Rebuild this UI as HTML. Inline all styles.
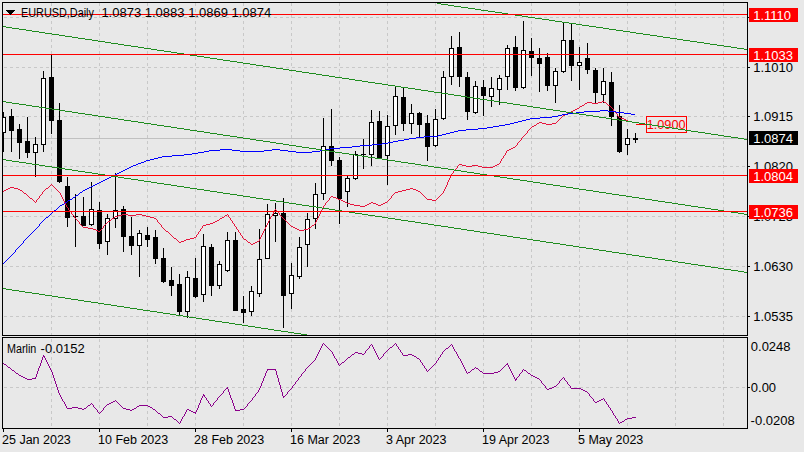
<!DOCTYPE html>
<html><head><meta charset="utf-8"><title>EURUSD Daily</title>
<style>
html,body{margin:0;padding:0;background:#e8e8e8;}
body{width:804px;height:452px;position:relative;overflow:hidden;font-family:"Liberation Sans",sans-serif;}
.b{position:absolute;left:749px;width:49px;height:14px;}
.t{position:absolute;white-space:nowrap;line-height:24px;height:24px;font-family:"Liberation Sans",sans-serif;}
</style></head><body>
<svg width="804" height="452" viewBox="0 0 804 452" style="position:absolute;left:0;top:0">
<defs><clipPath id="cm"><rect x="3" y="3" width="744" height="332"/></clipPath><clipPath id="ci"><rect x="3" y="338" width="744" height="90"/></clipPath></defs>
<g stroke="#c8c8c8" stroke-width="1" stroke-dasharray="3 3" shape-rendering="crispEdges" fill="none">
<line x1="51.5" y1="3" x2="51.5" y2="335"/>
<line x1="51.5" y1="339" x2="51.5" y2="428"/>
<line x1="99.5" y1="3" x2="99.5" y2="335"/>
<line x1="99.5" y1="339" x2="99.5" y2="428"/>
<line x1="147.5" y1="3" x2="147.5" y2="335"/>
<line x1="147.5" y1="339" x2="147.5" y2="428"/>
<line x1="195.5" y1="3" x2="195.5" y2="335"/>
<line x1="195.5" y1="339" x2="195.5" y2="428"/>
<line x1="243.5" y1="3" x2="243.5" y2="335"/>
<line x1="243.5" y1="339" x2="243.5" y2="428"/>
<line x1="291.5" y1="3" x2="291.5" y2="335"/>
<line x1="291.5" y1="339" x2="291.5" y2="428"/>
<line x1="339.5" y1="3" x2="339.5" y2="335"/>
<line x1="339.5" y1="339" x2="339.5" y2="428"/>
<line x1="387.5" y1="3" x2="387.5" y2="335"/>
<line x1="387.5" y1="339" x2="387.5" y2="428"/>
<line x1="435.5" y1="3" x2="435.5" y2="335"/>
<line x1="435.5" y1="339" x2="435.5" y2="428"/>
<line x1="483.5" y1="3" x2="483.5" y2="335"/>
<line x1="483.5" y1="339" x2="483.5" y2="428"/>
<line x1="531.5" y1="3" x2="531.5" y2="335"/>
<line x1="531.5" y1="339" x2="531.5" y2="428"/>
<line x1="579.5" y1="3" x2="579.5" y2="335"/>
<line x1="579.5" y1="339" x2="579.5" y2="428"/>
<line x1="627.5" y1="3" x2="627.5" y2="335"/>
<line x1="627.5" y1="339" x2="627.5" y2="428"/>
<line x1="675.5" y1="3" x2="675.5" y2="335"/>
<line x1="675.5" y1="339" x2="675.5" y2="428"/>
<line x1="723.5" y1="3" x2="723.5" y2="335"/>
<line x1="723.5" y1="339" x2="723.5" y2="428"/>
<line x1="4" y1="17.5" x2="747" y2="17.5"/>
<line x1="4" y1="67.5" x2="747" y2="67.5"/>
<line x1="4" y1="116.5" x2="747" y2="116.5"/>
<line x1="4" y1="166.5" x2="747" y2="166.5"/>
<line x1="4" y1="216.5" x2="747" y2="216.5"/>
<line x1="4" y1="266.5" x2="747" y2="266.5"/>
<line x1="4" y1="316.5" x2="747" y2="316.5"/>
<line x1="4" y1="387.5" x2="747" y2="387.5"/>
</g>
<g clip-path="url(#cm)">
<rect x="3" y="138" width="744" height="1" fill="#c0c0c0" shape-rendering="crispEdges"/>
<g shape-rendering="crispEdges">
<rect x="3" y="112" width="1" height="40" fill="#000"/>
<rect x="1" y="117" width="5" height="16" fill="#000"/>
<rect x="2" y="118" width="3" height="14" fill="#fff"/>
<rect x="11" y="109" width="1" height="43" fill="#000"/>
<rect x="9" y="116" width="5" height="15" fill="#000"/>
<rect x="19" y="124" width="1" height="35" fill="#000"/>
<rect x="17" y="129" width="5" height="14" fill="#000"/>
<rect x="27" y="117" width="1" height="41" fill="#000"/>
<rect x="25" y="141" width="5" height="12" fill="#000"/>
<rect x="35" y="137" width="1" height="40" fill="#000"/>
<rect x="33" y="144" width="5" height="9" fill="#000"/>
<rect x="34" y="145" width="3" height="7" fill="#fff"/>
<rect x="43" y="71" width="1" height="81" fill="#000"/>
<rect x="41" y="78" width="5" height="67" fill="#000"/>
<rect x="42" y="79" width="3" height="65" fill="#fff"/>
<rect x="51" y="55" width="1" height="79" fill="#000"/>
<rect x="49" y="77" width="5" height="44" fill="#000"/>
<rect x="59" y="103" width="1" height="80" fill="#000"/>
<rect x="57" y="120" width="5" height="62" fill="#000"/>
<rect x="67" y="177" width="1" height="50" fill="#000"/>
<rect x="65" y="186" width="5" height="32" fill="#000"/>
<rect x="75" y="194" width="1" height="53" fill="#000"/>
<rect x="73" y="216" width="5" height="1" fill="#000"/>
<rect x="83" y="197" width="1" height="29" fill="#000"/>
<rect x="81" y="216" width="5" height="10" fill="#000"/>
<rect x="91" y="182" width="1" height="44" fill="#000"/>
<rect x="89" y="209" width="5" height="16" fill="#000"/>
<rect x="90" y="210" width="3" height="14" fill="#fff"/>
<rect x="99" y="202" width="1" height="47" fill="#000"/>
<rect x="97" y="210" width="5" height="34" fill="#000"/>
<rect x="107" y="214" width="1" height="41" fill="#000"/>
<rect x="105" y="218" width="5" height="24" fill="#000"/>
<rect x="106" y="219" width="3" height="22" fill="#fff"/>
<rect x="115" y="173" width="1" height="55" fill="#000"/>
<rect x="113" y="210" width="5" height="9" fill="#000"/>
<rect x="114" y="211" width="3" height="7" fill="#fff"/>
<rect x="123" y="206" width="1" height="46" fill="#000"/>
<rect x="121" y="209" width="5" height="28" fill="#000"/>
<rect x="131" y="217" width="1" height="38" fill="#000"/>
<rect x="129" y="236" width="5" height="10" fill="#000"/>
<rect x="139" y="230" width="1" height="47" fill="#000"/>
<rect x="137" y="233" width="5" height="13" fill="#000"/>
<rect x="138" y="234" width="3" height="11" fill="#fff"/>
<rect x="147" y="227" width="1" height="20" fill="#000"/>
<rect x="145" y="235" width="5" height="5" fill="#000"/>
<rect x="155" y="230" width="1" height="34" fill="#000"/>
<rect x="153" y="237" width="5" height="22" fill="#000"/>
<rect x="163" y="248" width="1" height="35" fill="#000"/>
<rect x="161" y="258" width="5" height="24" fill="#000"/>
<rect x="171" y="267" width="1" height="29" fill="#000"/>
<rect x="169" y="280" width="5" height="6" fill="#000"/>
<rect x="179" y="274" width="1" height="42" fill="#000"/>
<rect x="177" y="284" width="5" height="28" fill="#000"/>
<rect x="187" y="271" width="1" height="47" fill="#000"/>
<rect x="185" y="277" width="5" height="35" fill="#000"/>
<rect x="186" y="278" width="3" height="33" fill="#fff"/>
<rect x="195" y="258" width="1" height="40" fill="#000"/>
<rect x="193" y="278" width="5" height="19" fill="#000"/>
<rect x="203" y="234" width="1" height="68" fill="#000"/>
<rect x="201" y="246" width="5" height="49" fill="#000"/>
<rect x="202" y="247" width="3" height="47" fill="#fff"/>
<rect x="211" y="244" width="1" height="52" fill="#000"/>
<rect x="209" y="247" width="5" height="39" fill="#000"/>
<rect x="219" y="261" width="1" height="28" fill="#000"/>
<rect x="217" y="264" width="5" height="22" fill="#000"/>
<rect x="218" y="265" width="3" height="20" fill="#fff"/>
<rect x="227" y="232" width="1" height="40" fill="#000"/>
<rect x="225" y="240" width="5" height="31" fill="#000"/>
<rect x="226" y="241" width="3" height="29" fill="#fff"/>
<rect x="235" y="232" width="1" height="79" fill="#000"/>
<rect x="233" y="240" width="5" height="71" fill="#000"/>
<rect x="243" y="296" width="1" height="27" fill="#000"/>
<rect x="241" y="309" width="5" height="4" fill="#000"/>
<rect x="251" y="286" width="1" height="30" fill="#000"/>
<rect x="249" y="291" width="5" height="21" fill="#000"/>
<rect x="250" y="292" width="3" height="19" fill="#fff"/>
<rect x="259" y="229" width="1" height="68" fill="#000"/>
<rect x="257" y="259" width="5" height="35" fill="#000"/>
<rect x="258" y="260" width="3" height="33" fill="#fff"/>
<rect x="267" y="204" width="1" height="55" fill="#000"/>
<rect x="265" y="214" width="5" height="45" fill="#000"/>
<rect x="266" y="215" width="3" height="43" fill="#fff"/>
<rect x="275" y="203" width="1" height="39" fill="#000"/>
<rect x="273" y="213" width="5" height="3" fill="#000"/>
<rect x="274" y="214" width="3" height="1" fill="#fff"/>
<rect x="283" y="198" width="1" height="130" fill="#000"/>
<rect x="281" y="213" width="5" height="83" fill="#000"/>
<rect x="291" y="263" width="1" height="46" fill="#000"/>
<rect x="289" y="275" width="5" height="19" fill="#000"/>
<rect x="290" y="276" width="3" height="17" fill="#fff"/>
<rect x="299" y="237" width="1" height="42" fill="#000"/>
<rect x="297" y="247" width="5" height="30" fill="#000"/>
<rect x="298" y="248" width="3" height="28" fill="#fff"/>
<rect x="307" y="213" width="1" height="54" fill="#000"/>
<rect x="305" y="219" width="5" height="26" fill="#000"/>
<rect x="306" y="220" width="3" height="24" fill="#fff"/>
<rect x="315" y="183" width="1" height="46" fill="#000"/>
<rect x="313" y="194" width="5" height="25" fill="#000"/>
<rect x="314" y="195" width="3" height="23" fill="#fff"/>
<rect x="323" y="118" width="1" height="82" fill="#000"/>
<rect x="321" y="146" width="5" height="48" fill="#000"/>
<rect x="322" y="147" width="3" height="46" fill="#fff"/>
<rect x="331" y="109" width="1" height="57" fill="#000"/>
<rect x="329" y="146" width="5" height="15" fill="#000"/>
<rect x="339" y="157" width="1" height="67" fill="#000"/>
<rect x="337" y="160" width="5" height="39" fill="#000"/>
<rect x="347" y="176" width="1" height="31" fill="#000"/>
<rect x="345" y="178" width="5" height="14" fill="#000"/>
<rect x="346" y="179" width="3" height="12" fill="#fff"/>
<rect x="355" y="151" width="1" height="29" fill="#000"/>
<rect x="353" y="154" width="5" height="25" fill="#000"/>
<rect x="354" y="155" width="3" height="23" fill="#fff"/>
<rect x="363" y="139" width="1" height="30" fill="#000"/>
<rect x="361" y="154" width="5" height="1" fill="#000"/>
<rect x="371" y="110" width="1" height="56" fill="#000"/>
<rect x="369" y="122" width="5" height="33" fill="#000"/>
<rect x="370" y="123" width="3" height="31" fill="#fff"/>
<rect x="379" y="111" width="1" height="48" fill="#000"/>
<rect x="377" y="121" width="5" height="37" fill="#000"/>
<rect x="387" y="115" width="1" height="70" fill="#000"/>
<rect x="385" y="126" width="5" height="30" fill="#000"/>
<rect x="386" y="127" width="3" height="28" fill="#fff"/>
<rect x="395" y="86" width="1" height="49" fill="#000"/>
<rect x="393" y="96" width="5" height="30" fill="#000"/>
<rect x="394" y="97" width="3" height="28" fill="#fff"/>
<rect x="403" y="88" width="1" height="43" fill="#000"/>
<rect x="401" y="97" width="5" height="27" fill="#000"/>
<rect x="411" y="104" width="1" height="30" fill="#000"/>
<rect x="409" y="113" width="5" height="11" fill="#000"/>
<rect x="410" y="114" width="3" height="9" fill="#fff"/>
<rect x="419" y="112" width="1" height="26" fill="#000"/>
<rect x="417" y="113" width="5" height="12" fill="#000"/>
<rect x="427" y="115" width="1" height="46" fill="#000"/>
<rect x="425" y="123" width="5" height="24" fill="#000"/>
<rect x="435" y="109" width="1" height="38" fill="#000"/>
<rect x="433" y="119" width="5" height="27" fill="#000"/>
<rect x="434" y="120" width="3" height="25" fill="#fff"/>
<rect x="443" y="71" width="1" height="49" fill="#000"/>
<rect x="441" y="77" width="5" height="42" fill="#000"/>
<rect x="442" y="78" width="3" height="40" fill="#fff"/>
<rect x="451" y="36" width="1" height="49" fill="#000"/>
<rect x="449" y="48" width="5" height="29" fill="#000"/>
<rect x="450" y="49" width="3" height="27" fill="#fff"/>
<rect x="459" y="32" width="1" height="55" fill="#000"/>
<rect x="457" y="47" width="5" height="30" fill="#000"/>
<rect x="467" y="72" width="1" height="48" fill="#000"/>
<rect x="465" y="77" width="5" height="35" fill="#000"/>
<rect x="475" y="81" width="1" height="33" fill="#000"/>
<rect x="473" y="86" width="5" height="27" fill="#000"/>
<rect x="474" y="87" width="3" height="25" fill="#fff"/>
<rect x="483" y="80" width="1" height="36" fill="#000"/>
<rect x="481" y="87" width="5" height="9" fill="#000"/>
<rect x="491" y="77" width="1" height="30" fill="#000"/>
<rect x="489" y="88" width="5" height="9" fill="#000"/>
<rect x="490" y="89" width="3" height="7" fill="#fff"/>
<rect x="499" y="75" width="1" height="30" fill="#000"/>
<rect x="497" y="78" width="5" height="12" fill="#000"/>
<rect x="498" y="79" width="3" height="10" fill="#fff"/>
<rect x="507" y="45" width="1" height="45" fill="#000"/>
<rect x="505" y="48" width="5" height="29" fill="#000"/>
<rect x="506" y="49" width="3" height="27" fill="#fff"/>
<rect x="515" y="36" width="1" height="55" fill="#000"/>
<rect x="513" y="47" width="5" height="41" fill="#000"/>
<rect x="523" y="21" width="1" height="68" fill="#000"/>
<rect x="521" y="50" width="5" height="38" fill="#000"/>
<rect x="522" y="51" width="3" height="36" fill="#fff"/>
<rect x="531" y="38" width="1" height="38" fill="#000"/>
<rect x="529" y="51" width="5" height="7" fill="#000"/>
<rect x="539" y="48" width="1" height="44" fill="#000"/>
<rect x="537" y="58" width="5" height="6" fill="#000"/>
<rect x="547" y="53" width="1" height="38" fill="#000"/>
<rect x="545" y="57" width="5" height="29" fill="#000"/>
<rect x="555" y="68" width="1" height="35" fill="#000"/>
<rect x="553" y="71" width="5" height="15" fill="#000"/>
<rect x="554" y="72" width="3" height="13" fill="#fff"/>
<rect x="563" y="22" width="1" height="51" fill="#000"/>
<rect x="561" y="40" width="5" height="32" fill="#000"/>
<rect x="562" y="41" width="3" height="30" fill="#fff"/>
<rect x="571" y="23" width="1" height="58" fill="#000"/>
<rect x="569" y="40" width="5" height="26" fill="#000"/>
<rect x="579" y="47" width="1" height="43" fill="#000"/>
<rect x="577" y="62" width="5" height="4" fill="#000"/>
<rect x="578" y="63" width="3" height="2" fill="#fff"/>
<rect x="587" y="43" width="1" height="31" fill="#000"/>
<rect x="585" y="58" width="5" height="12" fill="#000"/>
<rect x="595" y="68" width="1" height="36" fill="#000"/>
<rect x="593" y="70" width="5" height="23" fill="#000"/>
<rect x="603" y="68" width="1" height="35" fill="#000"/>
<rect x="601" y="81" width="5" height="14" fill="#000"/>
<rect x="602" y="82" width="3" height="12" fill="#fff"/>
<rect x="611" y="72" width="1" height="54" fill="#000"/>
<rect x="609" y="82" width="5" height="35" fill="#000"/>
<rect x="619" y="105" width="1" height="48" fill="#000"/>
<rect x="617" y="116" width="5" height="36" fill="#000"/>
<rect x="627" y="129" width="1" height="26" fill="#000"/>
<rect x="625" y="138" width="5" height="7" fill="#000"/>
<rect x="626" y="139" width="3" height="5" fill="#fff"/>
<rect x="635" y="133" width="1" height="10" fill="#000"/>
<rect x="633" y="138" width="5" height="2" fill="#000"/>
</g>
<path d="M4 190h2v1h-2zM20 190h2v1h-2zM402 190h4v1h-4zM416 190h2v1h-2zM331 196h2v1h-2zM569 112h2v1h-2zM93 229h3v1h-3zM297 229h2v1h-2zM304 229h4v1h-4zM345 202h2v1h-2zM371 202h2v1h-2zM385 202h2v1h-2zM203 225h3v1h-3zM312 225h2v1h-2zM602 101h2v1h-2zM210 223h3v1h-3zM459 164h3v1h-3zM497 164h2v1h-2zM360 206h5v1h-5zM174 238h2v1h-2zM190 238h4v1h-4zM30 198h2v1h-2zM336 198h2v1h-2zM587 102h5v1h-5zM598 102h4v1h-4zM604 102h2v1h-2zM350 204h4v1h-4zM367 204h2v1h-2zM376 204h2v1h-2zM381 204h2v1h-2zM8 188h2v1h-2zM14 188h4v1h-4zM46 188h2v1h-2zM410 188h3v1h-3zM343 201h2v1h-2zM186 239h4v1h-4zM244 239h2v1h-2zM118 215h4v1h-4zM128 215h8v1h-8zM142 215h4v1h-4zM225 215h2v1h-2zM217 220h2v1h-2zM181 241h3v1h-3zM257 241h2v1h-2zM511 148h2v1h-2zM546 124h6v1h-6zM96 230h2v1h-2zM299 230h5v1h-5zM122 214h6v1h-6zM136 214h6v1h-6zM462 165h4v1h-4zM472 165h6v1h-6zM495 165h2v1h-2zM482 167h11v1h-11zM115 216h3v1h-3zM146 216h4v1h-4zM338 199h3v1h-3zM427 199h5v1h-5zM108 221h2v1h-2zM215 221h2v1h-2zM621 118h3v1h-3zM2 191h2v1h-2zM398 191h4v1h-4zM418 191h2v1h-2zM347 203h3v1h-3zM369 203h2v1h-2zM373 203h3v1h-3zM383 203h2v1h-2zM88 228h5v1h-5zM295 228h2v1h-2zM308 228h2v1h-2zM565 114h2v1h-2zM537 123h2v1h-2zM542 123h4v1h-4zM552 123h4v1h-4zM354 205h6v1h-6zM365 205h2v1h-2zM378 205h3v1h-3zM333 197h3v1h-3zM466 166h6v1h-6zM478 166h4v1h-4zM493 166h2v1h-2zM6 189h2v1h-2zM18 189h2v1h-2zM406 189h4v1h-4zM413 189h3v1h-3zM83 227h5v1h-5zM293 227h2v1h-2zM626 120h2v1h-2zM253 243h2v1h-2zM507 150h2v1h-2zM341 200h2v1h-2zM432 200h4v1h-4zM291 226h2v1h-2zM194 237h2v1h-2zM395 192h3v1h-3zM206 224h4v1h-4zM585 103h2v1h-2zM592 103h6v1h-6zM577 108h2v1h-2zM10 187h4v1h-4zM150 217h4v1h-4zM222 217h2v1h-2zM24 193h2v1h-2zM112 218h2v1h-2zM154 218h2v1h-2zM220 218h2v1h-2zM567 113h2v1h-2zM184 240h2v1h-2zM580 106h2v1h-2zM98 231h2v1h-2zM166 231h2v1h-2zM563 115h2v1h-2zM539 122h3v1h-3zM213 222h2v1h-2zM573 110h2v1h-2zM179 242h2v1h-2zM248 242h2v1h-2zM255 242h2v1h-2zM571 111h2v1h-2zM582 105h2v1h-2zM608 105h2v1h-2zM619 117h2v1h-2zM624 119h2v1h-2zM532 126h2v1h-2zM575 109h2v1h-2zM513 147h2v1h-2zM534 125h2v1h-2zM251 244h2v1h-2zM509 149h2v1h-2zM44 190h1v1h-1zM57 190h1v1h-1zM444 189h1v2h-1zM28 196h1v1h-1zM39 196h1v2h-1zM61 195h1v2h-1zM391 196h1v2h-1zM424 196h1v1h-1zM439 196h1v1h-1zM615 112h1v1h-1zM101 229h1v1h-1zM164 229h1v1h-1zM200 229h1v2h-1zM237 229h1v1h-1zM264 229h1v2h-1zM170 234h1v1h-1zM197 234h1v1h-1zM240 233h1v2h-1zM262 233h1v2h-1zM35 202h1v1h-1zM64 201h1v2h-1zM326 202h1v1h-1zM81 225h1v1h-1zM104 225h1v1h-1zM161 225h1v2h-1zM234 224h1v2h-1zM266 225h1v2h-1zM290 225h1v1h-1zM79 222h1v2h-1zM106 223h1v1h-1zM159 223h1v1h-1zM233 223h1v1h-1zM267 223h1v2h-1zM288 223h1v1h-1zM315 222h1v2h-1zM169 233h1v1h-1zM198 232h1v2h-1zM66 205h1v2h-1zM323 206h1v2h-1zM68 208h1v2h-1zM275 209h1v1h-1zM322 208h1v2h-1zM243 238h1v1h-1zM260 237h1v2h-1zM38 198h1v1h-1zM62 197h1v2h-1zM329 198h1v2h-1zM390 198h1v1h-1zM426 198h1v1h-1zM437 198h1v1h-1zM65 203h1v2h-1zM325 203h1v2h-1zM55 188h1v1h-1zM445 187h1v2h-1zM34 201h1v1h-1zM36 200h1v2h-1zM327 201h1v1h-1zM387 201h1v1h-1zM69 210h1v1h-1zM274 210h1v2h-1zM276 210h1v1h-1zM321 210h1v2h-1zM176 239h1v1h-1zM259 239h1v2h-1zM73 215h1v1h-1zM228 215h1v2h-1zM272 214h1v2h-1zM280 215h1v1h-1zM319 214h1v2h-1zM77 220h1v1h-1zM110 220h1v1h-1zM157 220h1v2h-1zM231 220h1v1h-1zM269 219h1v2h-1zM285 220h1v1h-1zM316 220h1v2h-1zM178 241h1v1h-1zM247 241h1v1h-1zM536 124h1v1h-1zM100 230h1v1h-1zM165 230h1v1h-1zM238 230h1v2h-1zM72 214h1v1h-1zM227 214h1v1h-1zM279 213h1v2h-1zM458 165h1v1h-1zM457 166h1v2h-1zM516 145h1v1h-1zM451 174h1v2h-1zM74 216h1v2h-1zM224 216h1v1h-1zM271 216h1v1h-1zM281 216h1v1h-1zM318 216h1v2h-1zM454 170h1v1h-1zM505 153h1v2h-1zM32 199h1v1h-1zM37 199h1v1h-1zM63 199h1v2h-1zM389 199h1v1h-1zM436 199h1v1h-1zM78 221h1v1h-1zM232 221h1v2h-1zM268 221h1v2h-1zM286 221h1v1h-1zM560 118h1v1h-1zM22 191h1v1h-1zM43 191h1v1h-1zM58 191h1v1h-1zM443 191h1v2h-1zM102 228h1v1h-1zM163 228h1v1h-1zM201 228h1v1h-1zM236 227h1v2h-1zM265 227h1v2h-1zM617 114h1v2h-1zM450 176h1v2h-1zM324 205h1v1h-1zM524 135h1v1h-1zM29 197h1v1h-1zM330 197h1v1h-1zM425 197h1v1h-1zM438 197h1v1h-1zM45 189h1v1h-1zM56 189h1v1h-1zM103 226h1v2h-1zM162 227h1v1h-1zM202 226h1v2h-1zM310 227h1v1h-1zM27 195h1v1h-1zM40 195h1v1h-1zM392 195h1v1h-1zM423 195h1v1h-1zM440 195h1v1h-1zM499 163h1v1h-1zM558 120h1v1h-1zM519 141h1v1h-1zM250 243h1v1h-1zM33 200h1v1h-1zM328 200h1v1h-1zM388 200h1v1h-1zM82 226h1v1h-1zM235 226h1v1h-1zM311 226h1v1h-1zM173 237h1v1h-1zM242 236h1v2h-1zM23 192h1v1h-1zM42 192h1v2h-1zM59 192h1v1h-1zM420 192h1v1h-1zM80 224h1v1h-1zM105 224h1v1h-1zM160 224h1v1h-1zM289 224h1v1h-1zM314 224h1v1h-1zM579 107h1v1h-1zM611 107h1v1h-1zM76 219h1v1h-1zM111 219h1v1h-1zM156 219h1v1h-1zM219 219h1v1h-1zM230 218h1v2h-1zM284 219h1v1h-1zM317 218h1v2h-1zM606 103h1v1h-1zM51 184h1v1h-1zM447 182h1v3h-1zM70 211h1v1h-1zM277 211h1v1h-1zM612 108h1v1h-1zM527 131h1v2h-1zM48 187h1v1h-1zM54 187h1v1h-1zM562 116h1v1h-1zM618 116h1v1h-1zM114 217h1v1h-1zM229 217h1v1h-1zM270 217h1v2h-1zM282 217h1v1h-1zM60 193h1v2h-1zM394 193h1v1h-1zM421 193h1v1h-1zM442 193h1v1h-1zM75 218h1v1h-1zM283 218h1v1h-1zM26 194h1v1h-1zM41 194h1v1h-1zM393 194h1v1h-1zM422 194h1v1h-1zM441 194h1v1h-1zM171 235h1v1h-1zM196 235h1v2h-1zM241 235h1v1h-1zM261 235h1v2h-1zM449 178h1v2h-1zM506 151h1v2h-1zM172 236h1v1h-1zM453 171h1v2h-1zM49 186h1v1h-1zM53 186h1v1h-1zM446 185h1v2h-1zM616 113h1v1h-1zM584 104h1v1h-1zM607 104h1v1h-1zM502 158h1v1h-1zM177 240h1v1h-1zM246 240h1v1h-1zM557 121h1v1h-1zM610 106h1v1h-1zM199 231h1v1h-1zM263 231h1v2h-1zM515 146h1v1h-1zM71 212h1v2h-1zM273 212h1v2h-1zM320 212h1v2h-1zM556 122h1v1h-1zM107 222h1v1h-1zM158 222h1v1h-1zM287 222h1v1h-1zM526 133h1v1h-1zM613 109h1v2h-1zM614 111h1v1h-1zM67 207h1v1h-1zM521 138h1v2h-1zM561 117h1v1h-1zM448 180h1v2h-1zM529 129h1v1h-1zM559 119h1v1h-1zM50 185h1v1h-1zM52 185h1v1h-1zM452 173h1v1h-1zM278 212h1v1h-1zM501 159h1v2h-1zM517 143h1v2h-1zM520 140h1v1h-1zM455 169h1v1h-1zM504 155h1v1h-1zM528 130h1v1h-1zM168 232h1v1h-1zM239 232h1v1h-1zM500 161h1v2h-1zM523 136h1v1h-1zM531 127h1v1h-1zM518 142h1v1h-1zM503 156h1v2h-1zM530 128h1v1h-1zM525 134h1v1h-1zM522 137h1v1h-1zM456 168h1v1h-1z" fill="#e6143c" shape-rendering="crispEdges"/>
<path d="M398 140h6v1h-6zM493 126h6v1h-6zM584 111h16v1h-16zM608 111h8v1h-8zM172 155h12v1h-12zM360 145h12v1h-12zM204 151h5v1h-5zM240 151h24v1h-24zM288 151h8v1h-8zM312 151h8v1h-8zM540 117h12v1h-12zM138 163h3v1h-3zM209 150h11v1h-11zM232 150h8v1h-8zM264 150h8v1h-8zM280 150h8v1h-8zM320 150h6v1h-6zM568 113h8v1h-8zM624 113h7v1h-7zM109 177h2v1h-2zM600 110h8v1h-8zM518 121h4v1h-4zM382 143h6v1h-6zM352 146h8v1h-8zM454 131h4v1h-4zM101 181h2v1h-2zM466 129h12v1h-12zM424 136h14v1h-14zM154 158h4v1h-4zM558 115h4v1h-4zM404 139h5v1h-5zM499 125h6v1h-6zM416 137h8v1h-8zM123 170h2v1h-2zM184 154h8v1h-8zM198 152h6v1h-6zM296 152h16v1h-16zM562 114h6v1h-6zM631 114h4v1h-4zM62 204h2v1h-2zM458 130h8v1h-8zM220 149h12v1h-12zM272 149h8v1h-8zM326 149h4v1h-4zM526 119h4v1h-4zM505 124h5v1h-5zM119 172h2v1h-2zM150 159h4v1h-4zM442 134h4v1h-4zM162 156h10v1h-10zM530 118h10v1h-10zM478 128h9v1h-9zM133 165h3v1h-3zM514 122h4v1h-4zM372 144h10v1h-10zM105 179h2v1h-2zM340 147h12v1h-12zM97 183h2v1h-2zM192 153h6v1h-6zM522 120h4v1h-4zM115 174h2v1h-2zM576 112h8v1h-8zM616 112h8v1h-8zM330 148h10v1h-10zM393 141h5v1h-5zM80 192h2v1h-2zM158 157h4v1h-4zM450 132h4v1h-4zM107 178h2v1h-2zM487 127h6v1h-6zM552 116h6v1h-6zM146 160h4v1h-4zM438 135h4v1h-4zM111 176h2v1h-2zM83 190h2v1h-2zM117 173h2v1h-2zM46 217h2v1h-2zM131 166h2v1h-2zM76 195h2v1h-2zM510 123h4v1h-4zM68 200h2v1h-2zM60 205h2v1h-2zM103 180h2v1h-2zM99 182h2v1h-2zM141 162h3v1h-3zM388 142h5v1h-5zM113 175h2v1h-2zM65 202h2v1h-2zM95 184h2v1h-2zM409 138h7v1h-7zM144 161h2v1h-2zM70 199h2v1h-2zM91 186h2v1h-2zM129 167h2v1h-2zM125 169h2v1h-2zM93 185h2v1h-2zM89 187h2v1h-2zM127 168h2v1h-2zM73 197h2v1h-2zM136 164h2v1h-2zM85 189h2v1h-2zM446 133h4v1h-4zM54 210h2v1h-2zM87 188h2v1h-2zM121 171h2v1h-2zM39 224h1v2h-1zM7 259h1v1h-1zM27 237h1v1h-1zM42 221h1v1h-1zM19 246h1v1h-1zM14 252h1v1h-1zM11 255h1v1h-1zM2 264h1v1h-1zM34 230h1v1h-1zM53 211h1v1h-1zM57 208h1v1h-1zM26 238h1v1h-1zM44 219h1v1h-1zM9 257h1v1h-1zM29 235h1v1h-1zM6 260h1v1h-1zM48 216h1v1h-1zM21 244h1v1h-1zM41 222h1v1h-1zM36 228h1v1h-1zM4 262h1v1h-1zM24 240h1v1h-1zM75 196h1v1h-1zM52 212h1v1h-1zM13 253h1v1h-1zM16 249h1v1h-1zM31 233h1v1h-1zM67 201h1v1h-1zM59 206h1v1h-1zM79 193h1v1h-1zM28 236h1v1h-1zM23 241h1v2h-1zM43 220h1v1h-1zM8 258h1v1h-1zM35 229h1v1h-1zM50 214h1v1h-1zM38 226h1v1h-1zM15 250h1v2h-1zM18 247h1v1h-1zM3 263h1v1h-1zM30 234h1v1h-1zM33 231h1v1h-1zM10 256h1v1h-1zM58 207h1v1h-1zM56 209h1v1h-1zM45 218h1v1h-1zM22 243h1v1h-1zM49 215h1v1h-1zM37 227h1v1h-1zM5 261h1v1h-1zM72 198h1v1h-1zM64 203h1v1h-1zM25 239h1v1h-1zM40 223h1v1h-1zM20 245h1v1h-1zM17 248h1v1h-1zM12 254h1v1h-1zM32 232h1v1h-1zM51 213h1v1h-1zM78 194h1v1h-1zM82 191h1v1h-1z" fill="#0000ff" shape-rendering="crispEdges"/>
<rect x="636" y="124" width="10" height="1" fill="#ff0000" shape-rendering="crispEdges"/>
<rect x="646.5" y="116.5" width="40" height="16" fill="#e8e8e8" stroke="#ff0000" stroke-width="1" shape-rendering="crispEdges"/>
<text x="646.7" y="128.8" font-family="Liberation Sans, sans-serif" font-size="12.7" fill="#ff0000">1.0900</text>
<path d="M663 37h7v1h-7zM468 8h7v1h-7zM623 31h7v1h-7zM657 36h6v1h-6zM555 21h7v1h-7zM710 44h7v1h-7zM515 15h7v1h-7zM670 38h7v1h-7zM481 10h7v1h-7zM441 4h7v1h-7zM603 28h6v1h-6zM569 23h7v1h-7zM724 46h7v1h-7zM542 19h7v1h-7zM582 25h7v1h-7zM630 32h6v1h-6zM650 35h7v1h-7zM454 6h7v1h-7zM609 29h7v1h-7zM717 45h7v1h-7zM731 47h6v1h-6zM643 34h7v1h-7zM448 5h6v1h-6zM737 48h7v1h-7zM697 42h7v1h-7zM502 13h6v1h-6zM461 7h7v1h-7zM690 41h7v1h-7zM744 49h4v1h-4zM549 20h6v1h-6zM528 17h7v1h-7zM488 11h7v1h-7zM495 12h7v1h-7zM616 30h7v1h-7zM576 24h6v1h-6zM596 27h7v1h-7zM589 26h7v1h-7zM683 40h7v1h-7zM522 16h6v1h-6zM677 39h6v1h-6zM636 33h7v1h-7zM535 18h7v1h-7zM508 14h7v1h-7zM562 22h7v1h-7zM475 9h6v1h-6zM704 43h6v1h-6zM437 3h4v1h-4z" fill="#1e8c1e" shape-rendering="crispEdges"/>
<path d="M26 30h6v1h-6zM177 53h7v1h-7zM335 77h7v1h-7zM665 127h7v1h-7zM296 71h6v1h-6zM448 94h6v1h-6zM678 129h7v1h-7zM256 65h7v1h-7zM566 112h7v1h-7zM78 38h7v1h-7zM744 139h4v1h-4zM263 66h7v1h-7zM276 68h7v1h-7zM724 136h7v1h-7zM237 62h6v1h-6zM382 84h6v1h-6zM355 80h7v1h-7zM494 101h6v1h-6zM6 27h6v1h-6zM507 103h6v1h-6zM612 119h7v1h-7zM124 45h7v1h-7zM626 121h6v1h-6zM540 108h6v1h-6zM52 34h7v1h-7zM322 75h7v1h-7zM283 69h6v1h-6zM441 93h7v1h-7zM92 40h6v1h-6zM105 42h6v1h-6zM553 110h7v1h-7zM65 36h7v1h-7zM593 116h6v1h-6zM672 128h6v1h-6zM171 52h6v1h-6zM184 54h6v1h-6zM586 115h7v1h-7zM98 41h7v1h-7zM368 82h7v1h-7zM190 55h7v1h-7zM487 100h7v1h-7zM639 123h6v1h-6zM151 49h6v1h-6zM599 117h7v1h-7zM111 43h7v1h-7zM421 90h7v1h-7zM454 95h7v1h-7zM415 89h6v1h-6zM685 130h6v1h-6zM197 56h7v1h-7zM19 29h7v1h-7zM467 97h7v1h-7zM500 102h7v1h-7zM12 28h7v1h-7zM164 51h7v1h-7zM652 125h6v1h-6zM731 137h7v1h-7zM243 63h7v1h-7zM711 134h7v1h-7zM210 58h7v1h-7zM223 60h7v1h-7zM329 76h6v1h-6zM342 78h7v1h-7zM527 106h6v1h-6zM39 32h6v1h-6zM309 73h7v1h-7zM270 67h6v1h-6zM428 91h6v1h-6zM579 114h7v1h-7zM388 85h7v1h-7zM658 126h7v1h-7zM302 72h7v1h-7zM573 113h6v1h-6zM85 39h7v1h-7zM395 86h6v1h-6zM691 131h7v1h-7zM316 74h6v1h-6zM474 98h6v1h-6zM138 47h6v1h-6zM408 88h7v1h-7zM705 133h6v1h-6zM217 59h6v1h-6zM619 120h7v1h-7zM131 46h7v1h-7zM401 87h7v1h-7zM520 105h7v1h-7zM2 26h4v1h-4zM718 135h6v1h-6zM230 61h7v1h-7zM546 109h7v1h-7zM45 33h7v1h-7zM59 35h6v1h-6zM698 132h7v1h-7zM513 104h7v1h-7zM632 122h7v1h-7zM144 48h7v1h-7zM362 81h6v1h-6zM375 83h7v1h-7zM289 70h7v1h-7zM560 111h6v1h-6zM72 37h6v1h-6zM32 31h7v1h-7zM204 57h6v1h-6zM645 124h7v1h-7zM157 50h7v1h-7zM606 118h6v1h-6zM118 44h6v1h-6zM434 92h7v1h-7zM533 107h7v1h-7zM461 96h6v1h-6zM349 79h6v1h-6zM738 138h6v1h-6zM250 64h6v1h-6zM480 99h7v1h-7z" fill="#1e8c1e" shape-rendering="crispEdges"/>
<path d="M401 162h7v1h-7zM415 164h6v1h-6zM520 180h7v1h-7zM32 106h7v1h-7zM480 174h7v1h-7zM302 147h7v1h-7zM263 141h7v1h-7zM2 101h4v1h-4zM461 171h6v1h-6zM579 189h7v1h-7zM78 113h7v1h-7zM92 115h6v1h-6zM230 136h7v1h-7zM243 138h7v1h-7zM349 154h6v1h-6zM731 212h7v1h-7zM322 150h7v1h-7zM546 184h7v1h-7zM59 110h6v1h-6zM507 178h6v1h-6zM19 104h7v1h-7zM329 151h6v1h-6zM289 145h7v1h-7zM408 163h7v1h-7zM560 186h6v1h-6zM593 191h6v1h-6zM105 117h6v1h-6zM553 185h7v1h-7zM65 111h7v1h-7zM223 135h7v1h-7zM375 158h7v1h-7zM711 209h7v1h-7zM335 152h7v1h-7zM645 199h7v1h-7zM157 125h7v1h-7zM454 170h7v1h-7zM606 193h6v1h-6zM118 119h6v1h-6zM72 112h6v1h-6zM639 198h6v1h-6zM151 124h6v1h-6zM652 200h6v1h-6zM421 165h7v1h-7zM85 114h7v1h-7zM382 159h6v1h-6zM691 206h7v1h-7zM204 132h6v1h-6zM237 137h6v1h-6zM388 160h7v1h-7zM197 131h7v1h-7zM467 172h7v1h-7zM738 213h6v1h-6zM250 139h6v1h-6zM296 146h6v1h-6zM448 169h6v1h-6zM566 187h7v1h-7zM718 210h6v1h-6zM26 105h6v1h-6zM678 204h7v1h-7zM533 182h7v1h-7zM45 108h7v1h-7zM494 176h6v1h-6zM6 102h6v1h-6zM612 194h7v1h-7zM124 120h7v1h-7zM276 143h7v1h-7zM395 161h6v1h-6zM355 155h7v1h-7zM309 148h7v1h-7zM540 183h6v1h-6zM52 109h7v1h-7zM362 156h6v1h-6zM658 201h7v1h-7zM441 168h7v1h-7zM665 202h7v1h-7zM177 128h7v1h-7zM626 196h6v1h-6zM138 122h6v1h-6zM586 190h7v1h-7zM98 116h7v1h-7zM190 130h7v1h-7zM487 175h7v1h-7zM672 203h6v1h-6zM184 129h6v1h-6zM685 205h6v1h-6zM724 211h7v1h-7zM164 126h7v1h-7zM283 144h6v1h-6zM434 167h7v1h-7zM500 177h7v1h-7zM12 103h7v1h-7zM513 179h7v1h-7zM698 207h7v1h-7zM210 133h7v1h-7zM599 192h7v1h-7zM111 118h7v1h-7zM744 214h4v1h-4zM256 140h7v1h-7zM527 181h6v1h-6zM39 107h6v1h-6zM428 166h6v1h-6zM342 153h7v1h-7zM573 188h6v1h-6zM474 173h6v1h-6zM171 127h6v1h-6zM270 142h6v1h-6zM217 134h6v1h-6zM316 149h6v1h-6zM632 197h7v1h-7zM144 123h7v1h-7zM705 208h6v1h-6zM619 195h7v1h-7zM131 121h7v1h-7zM368 157h7v1h-7z" fill="#1e8c1e" shape-rendering="crispEdges"/>
<path d="M289 203h7v1h-7zM441 226h7v1h-7zM560 244h6v1h-6zM72 170h6v1h-6zM520 238h7v1h-7zM32 164h7v1h-7zM184 187h6v1h-6zM672 261h6v1h-6zM302 205h7v1h-7zM705 266h6v1h-6zM217 192h6v1h-6zM335 210h7v1h-7zM487 233h7v1h-7zM2 159h4v1h-4zM606 251h6v1h-6zM118 177h6v1h-6zM270 200h6v1h-6zM566 245h7v1h-7zM78 171h7v1h-7zM263 199h7v1h-7zM276 201h7v1h-7zM85 172h7v1h-7zM421 223h7v1h-7zM533 240h7v1h-7zM45 166h7v1h-7zM573 246h6v1h-6zM652 258h6v1h-6zM164 184h7v1h-7zM316 207h6v1h-6zM362 214h6v1h-6zM619 253h7v1h-7zM131 179h7v1h-7zM632 255h7v1h-7zM593 249h6v1h-6zM92 173h6v1h-6zM105 175h6v1h-6zM401 220h7v1h-7zM210 191h7v1h-7zM599 250h7v1h-7zM111 176h7v1h-7zM408 221h7v1h-7zM678 262h7v1h-7zM190 188h7v1h-7zM342 211h7v1h-7zM448 227h6v1h-6zM461 229h6v1h-6zM645 257h7v1h-7zM157 183h7v1h-7zM724 269h7v1h-7zM237 195h6v1h-6zM388 218h7v1h-7zM59 168h6v1h-6zM546 242h7v1h-7zM507 236h6v1h-6zM19 162h7v1h-7zM731 270h7v1h-7zM243 196h7v1h-7zM540 241h6v1h-6zM52 167h7v1h-7zM204 190h6v1h-6zM691 264h7v1h-7zM322 208h7v1h-7zM474 231h6v1h-6zM553 243h7v1h-7zM65 169h7v1h-7zM738 271h6v1h-6zM250 197h6v1h-6zM368 215h7v1h-7zM639 256h6v1h-6zM151 182h6v1h-6zM349 212h6v1h-6zM309 206h7v1h-7zM579 247h7v1h-7zM685 263h6v1h-6zM197 189h7v1h-7zM698 265h7v1h-7zM612 252h7v1h-7zM124 178h7v1h-7zM395 219h6v1h-6zM513 237h7v1h-7zM665 260h7v1h-7zM177 186h7v1h-7zM626 254h6v1h-6zM138 180h6v1h-6zM434 225h7v1h-7zM480 232h7v1h-7zM144 181h7v1h-7zM711 267h7v1h-7zM223 193h7v1h-7zM375 216h7v1h-7zM494 234h6v1h-6zM6 160h6v1h-6zM527 239h6v1h-6zM39 165h6v1h-6zM454 228h7v1h-7zM355 213h7v1h-7zM171 185h6v1h-6zM283 202h6v1h-6zM296 204h6v1h-6zM382 217h6v1h-6zM467 230h7v1h-7zM428 224h6v1h-6zM26 163h6v1h-6zM744 272h4v1h-4zM256 198h7v1h-7zM500 235h7v1h-7zM12 161h7v1h-7zM586 248h7v1h-7zM98 174h7v1h-7zM329 209h6v1h-6zM415 222h6v1h-6zM718 268h6v1h-6zM230 194h7v1h-7zM658 259h7v1h-7z" fill="#1e8c1e" shape-rendering="crispEdges"/>
<path d="M202 319h7v1h-7zM170 314h6v1h-6zM248 326h7v1h-7zM150 311h7v1h-7zM255 327h6v1h-6zM268 329h6v1h-6zM215 321h7v1h-7zM229 323h6v1h-6zM39 294h6v1h-6zM2 288h4v1h-4zM45 295h7v1h-7zM196 318h6v1h-6zM274 330h7v1h-7zM84 301h7v1h-7zM58 297h7v1h-7zM281 331h7v1h-7zM242 325h6v1h-6zM25 292h7v1h-7zM143 310h7v1h-7zM176 315h7v1h-7zM288 332h6v1h-6zM111 305h6v1h-6zM71 299h7v1h-7zM189 317h7v1h-7zM222 322h7v1h-7zM157 312h6v1h-6zM235 324h7v1h-7zM32 293h7v1h-7zM183 316h6v1h-6zM301 334h6v1h-6zM261 328h7v1h-7zM294 333h7v1h-7zM78 300h6v1h-6zM12 290h7v1h-7zM307 335h4v1h-4zM130 308h7v1h-7zM6 289h6v1h-6zM163 313h7v1h-7zM91 302h7v1h-7zM104 304h7v1h-7zM209 320h6v1h-6zM19 291h6v1h-6zM65 298h6v1h-6zM117 306h7v1h-7zM124 307h6v1h-6zM137 309h6v1h-6zM52 296h6v1h-6zM98 303h6v1h-6z" fill="#1e8c1e" shape-rendering="crispEdges"/>
<rect x="3" y="14" width="744" height="1" fill="#ff0000" shape-rendering="crispEdges"/>
<rect x="3" y="54" width="744" height="1" fill="#ff0000" shape-rendering="crispEdges"/>
<rect x="3" y="175" width="744" height="1" fill="#ff0000" shape-rendering="crispEdges"/>
<rect x="3" y="211" width="744" height="1" fill="#ff0000" shape-rendering="crispEdges"/>
</g>
<g clip-path="url(#ci)">
<path d="M446 348h2v1h-2zM476 368h2v1h-2zM12 370h2v1h-2zM524 370h2v1h-2zM403 355h5v1h-5zM412 355h2v1h-2zM627 418h5v1h-5zM27 379h5v1h-5zM515 379h2v1h-2zM16 373h2v1h-2zM483 373h11v1h-11zM528 373h2v1h-2zM417 358h2v1h-2zM43 356h2v1h-2zM414 356h2v1h-2zM67 408h5v1h-5zM78 408h4v1h-4zM84 408h2v1h-2zM123 408h3v1h-3zM134 408h2v1h-2zM168 416h4v1h-4zM599 400h2v1h-2zM4 364h2v1h-2zM506 364h2v1h-2zM554 386h2v1h-2zM137 406h2v1h-2zM148 406h2v1h-2zM267 369h9v1h-9zM472 369h2v1h-2zM342 362h2v1h-2zM163 417h5v1h-5zM632 417h4v1h-4zM355 352h3v1h-3zM130 410h2v1h-2zM189 410h2v1h-2zM235 410h5v1h-5zM583 390h2v1h-2zM111 402h2v1h-2zM595 402h2v1h-2zM547 389h2v1h-2zM581 389h2v1h-2zM283 396h2v1h-2zM72 407h6v1h-6zM150 407h2v1h-2zM226 388h2v1h-2zM549 388h3v1h-3zM571 388h10v1h-10zM82 409h2v1h-2zM126 409h4v1h-4zM132 409h2v1h-2zM153 409h2v1h-2zM187 409h2v1h-2zM240 409h4v1h-4zM109 403h2v1h-2zM620 422h2v1h-2zM19 375h2v1h-2zM531 375h2v1h-2zM601 399h2v1h-2zM203 395h2v1h-2zM88 405h2v1h-2zM139 405h9v1h-9zM390 347h2v1h-2zM468 372h2v1h-2zM494 372h4v1h-4zM358 353h4v1h-4zM552 387h2v1h-2zM158 413h2v1h-2zM25 378h2v1h-2zM32 378h4v1h-4zM537 378h2v1h-2zM8 367h2v1h-2zM113 401h2v1h-2zM597 401h2v1h-2zM193 412h3v1h-3zM622 421h2v1h-2zM348 357h2v1h-2zM21 376h2v1h-2zM533 376h2v1h-2zM107 404h2v1h-2zM174 419h2v1h-2zM625 419h2v1h-2zM191 411h2v1h-2zM23 377h2v1h-2zM535 377h2v1h-2zM352 354h2v1h-2zM362 354h2v1h-2zM408 354h4v1h-4zM480 371h2v1h-2zM498 371h2v1h-2zM585 391h2v1h-2zM320 348h1v2h-1zM328 348h1v1h-1zM368 348h1v1h-1zM373 347h1v2h-1zM389 348h1v1h-1zM398 347h1v2h-1zM453 347h1v2h-1zM10 368h1v1h-1zM38 368h1v3h-1zM50 368h1v2h-1zM306 368h1v1h-1zM425 368h1v1h-1zM430 368h1v1h-1zM464 367h1v2h-1zM474 368h1v1h-1zM502 368h1v1h-1zM509 367h1v2h-1zM51 370h1v2h-1zM267 370h1v1h-1zM275 370h1v1h-1zM305 369h1v2h-1zM426 369h1v2h-1zM428 370h1v1h-1zM465 369h1v2h-1zM471 370h1v1h-1zM479 370h1v1h-1zM500 370h1v1h-1zM510 369h1v2h-1zM522 370h1v2h-1zM43 355h1v1h-1zM317 354h1v2h-1zM333 354h1v2h-1zM351 355h1v1h-1zM377 355h1v2h-1zM383 354h1v2h-1zM440 355h1v2h-1zM457 354h1v2h-1zM173 418h1v1h-1zM182 417h1v2h-1zM616 418h1v1h-1zM54 378h1v3h-1zM263 378h1v3h-1zM278 378h1v4h-1zM298 378h1v2h-1zM539 379h1v1h-1zM561 379h1v1h-1zM564 378h1v2h-1zM37 371h1v3h-1zM52 372h1v3h-1zM265 373h1v3h-1zM276 371h1v4h-1zM302 373h1v1h-1zM467 373h1v1h-1zM512 373h1v2h-1zM520 373h1v1h-1zM42 357h1v3h-1zM45 358h1v2h-1zM315 358h1v2h-1zM335 358h1v1h-1zM347 358h1v1h-1zM378 357h1v2h-1zM380 358h1v1h-1zM438 358h1v2h-1zM459 358h1v1h-1zM316 356h1v2h-1zM334 356h1v2h-1zM350 356h1v1h-1zM382 356h1v1h-1zM458 356h1v2h-1zM95 408h1v1h-1zM103 408h1v2h-1zM152 408h1v1h-1zM197 408h1v2h-1zM234 406h1v3h-1zM244 408h1v1h-1zM610 408h1v2h-1zM322 344h1v2h-1zM325 345h1v1h-1zM370 345h1v1h-1zM372 345h1v2h-1zM393 345h1v1h-1zM396 344h1v2h-1zM450 345h1v1h-1zM452 345h1v2h-1zM162 416h1v1h-1zM183 416h1v1h-1zM615 416h1v2h-1zM62 399h1v2h-1zM115 400h1v1h-1zM200 400h1v3h-1zM207 400h1v1h-1zM216 400h1v1h-1zM232 400h1v3h-1zM251 400h1v1h-1zM593 399h1v2h-1zM604 399h1v2h-1zM40 363h1v3h-1zM48 364h1v2h-1zM310 364h1v1h-1zM338 363h1v2h-1zM340 364h1v1h-1zM422 363h1v2h-1zM434 364h1v1h-1zM462 363h1v2h-1zM56 384h1v3h-1zM260 386h1v2h-1zM280 385h1v4h-1zM292 386h1v2h-1zM545 386h1v2h-1zM570 386h1v2h-1zM319 350h1v2h-1zM331 351h1v1h-1zM365 351h1v2h-1zM375 351h1v2h-1zM386 351h1v1h-1zM400 350h1v2h-1zM443 351h1v1h-1zM455 351h1v1h-1zM66 406h1v2h-1zM87 406h1v1h-1zM93 405h1v2h-1zM105 406h1v1h-1zM121 406h1v1h-1zM198 405h1v3h-1zM211 406h1v1h-1zM246 406h1v1h-1zM608 405h1v2h-1zM11 369h1v1h-1zM429 369h1v1h-1zM478 369h1v1h-1zM501 369h1v1h-1zM523 369h1v1h-1zM2 362h1v1h-1zM41 360h1v3h-1zM47 362h1v2h-1zM312 362h1v1h-1zM337 361h1v2h-1zM421 362h1v1h-1zM436 361h1v2h-1zM461 361h1v2h-1zM172 417h1v1h-1zM329 349h1v1h-1zM367 349h1v1h-1zM374 349h1v2h-1zM388 349h1v1h-1zM399 349h1v1h-1zM445 349h1v1h-1zM454 349h1v2h-1zM18 374h1v1h-1zM36 374h1v3h-1zM301 374h1v2h-1zM519 374h1v2h-1zM530 374h1v1h-1zM318 352h1v2h-1zM332 352h1v2h-1zM385 352h1v1h-1zM401 352h1v1h-1zM442 352h1v2h-1zM456 352h1v2h-1zM55 381h1v3h-1zM262 381h1v2h-1zM296 381h1v1h-1zM541 381h1v2h-1zM559 381h1v2h-1zM566 381h1v1h-1zM97 410h1v2h-1zM102 410h1v1h-1zM155 410h1v1h-1zM186 410h1v2h-1zM196 410h1v2h-1zM611 410h1v1h-1zM58 390h1v3h-1zM224 390h1v1h-1zM228 389h1v3h-1zM258 390h1v2h-1zM281 389h1v3h-1zM289 390h1v1h-1zM64 402h1v2h-1zM117 402h1v1h-1zM208 401h1v2h-1zM214 402h1v1h-1zM249 402h1v1h-1zM606 402h1v2h-1zM279 382h1v3h-1zM295 382h1v2h-1zM567 382h1v2h-1zM57 387h1v3h-1zM225 389h1v1h-1zM259 388h1v2h-1zM290 389h1v1h-1zM60 395h1v2h-1zM202 396h1v2h-1zM204 396h1v1h-1zM219 396h1v1h-1zM230 395h1v3h-1zM254 396h1v1h-1zM590 396h1v1h-1zM86 407h1v1h-1zM94 407h1v1h-1zM104 407h1v1h-1zM122 407h1v1h-1zM136 407h1v1h-1zM245 407h1v1h-1zM609 407h1v1h-1zM330 350h1v1h-1zM366 350h1v1h-1zM387 350h1v1h-1zM444 350h1v1h-1zM321 346h1v2h-1zM326 346h1v1h-1zM369 346h1v2h-1zM392 346h1v1h-1zM397 346h1v1h-1zM449 346h1v1h-1zM291 388h1v1h-1zM546 388h1v1h-1zM96 409h1v1h-1zM235 409h1v1h-1zM91 403h1v1h-1zM118 403h1v1h-1zM199 403h1v2h-1zM209 403h1v1h-1zM213 403h1v2h-1zM233 403h1v3h-1zM248 403h1v1h-1zM178 422h1v1h-1zM180 421h1v2h-1zM618 421h1v2h-1zM53 375h1v3h-1zM277 375h1v3h-1zM513 375h1v2h-1zM201 398h1v2h-1zM206 398h1v2h-1zM217 398h1v2h-1zM231 398h1v2h-1zM252 398h1v2h-1zM220 395h1v1h-1zM255 394h1v2h-1zM282 392h1v4h-1zM285 395h1v1h-1zM589 394h1v2h-1zM65 404h1v2h-1zM106 405h1v1h-1zM120 405h1v1h-1zM210 404h1v2h-1zM212 405h1v1h-1zM247 404h1v2h-1zM327 347h1v1h-1zM448 347h1v1h-1zM15 372h1v1h-1zM266 371h1v2h-1zM303 372h1v1h-1zM466 371h1v2h-1zM482 372h1v1h-1zM511 371h1v2h-1zM521 372h1v1h-1zM527 372h1v1h-1zM354 353h1v1h-1zM364 353h1v1h-1zM376 353h1v2h-1zM384 353h1v1h-1zM402 353h1v2h-1zM227 387h1v1h-1zM99 413h1v1h-1zM185 412h1v2h-1zM195 413h1v1h-1zM613 413h1v2h-1zM3 363h1v1h-1zM311 363h1v1h-1zM341 363h1v1h-1zM435 363h1v1h-1zM507 363h1v1h-1zM514 377h1v2h-1zM516 378h1v1h-1zM562 378h1v1h-1zM261 383h1v3h-1zM294 384h1v1h-1zM543 384h1v1h-1zM557 384h1v1h-1zM568 384h1v1h-1zM7 366h1v1h-1zM39 366h1v2h-1zM49 366h1v2h-1zM308 366h1v1h-1zM424 366h1v2h-1zM432 366h1v1h-1zM463 365h1v2h-1zM504 366h1v1h-1zM508 365h1v2h-1zM176 420h1v1h-1zM181 419h1v2h-1zM617 419h1v2h-1zM624 420h1v1h-1zM161 415h1v1h-1zM184 414h1v2h-1zM614 415h1v1h-1zM307 367h1v1h-1zM431 367h1v1h-1zM475 367h1v1h-1zM503 367h1v1h-1zM63 401h1v1h-1zM116 401h1v1h-1zM215 401h1v1h-1zM250 401h1v1h-1zM594 401h1v1h-1zM605 401h1v1h-1zM98 412h1v1h-1zM100 412h1v1h-1zM157 412h1v1h-1zM612 411h1v2h-1zM293 385h1v1h-1zM544 385h1v1h-1zM556 385h1v1h-1zM569 385h1v1h-1zM177 421h1v1h-1zM44 357h1v1h-1zM381 357h1v1h-1zM416 357h1v1h-1zM439 357h1v1h-1zM61 397h1v2h-1zM592 398h1v1h-1zM603 398h1v1h-1zM264 376h1v2h-1zM300 376h1v1h-1zM518 376h1v1h-1zM90 404h1v1h-1zM92 404h1v1h-1zM119 404h1v1h-1zM607 404h1v1h-1zM223 391h1v2h-1zM229 392h1v3h-1zM257 392h1v1h-1zM287 392h1v2h-1zM587 392h1v1h-1zM59 393h1v2h-1zM222 393h1v1h-1zM256 393h1v1h-1zM588 393h1v1h-1zM101 411h1v1h-1zM156 411h1v1h-1zM323 343h1v1h-1zM395 343h1v1h-1zM203 394h1v1h-1zM221 394h1v1h-1zM286 394h1v1h-1zM46 360h1v2h-1zM314 360h1v1h-1zM336 359h1v2h-1zM345 360h1v1h-1zM420 360h1v2h-1zM437 360h1v1h-1zM460 359h1v2h-1zM324 344h1v1h-1zM371 344h1v1h-1zM394 344h1v1h-1zM451 344h1v1h-1zM205 397h1v1h-1zM218 397h1v1h-1zM253 397h1v1h-1zM283 397h1v1h-1zM591 397h1v1h-1zM35 377h1v1h-1zM299 377h1v1h-1zM517 377h1v1h-1zM563 377h1v1h-1zM441 354h1v1h-1zM14 371h1v1h-1zM304 371h1v1h-1zM427 371h1v1h-1zM470 371h1v1h-1zM526 371h1v1h-1zM542 383h1v1h-1zM558 383h1v1h-1zM346 359h1v1h-1zM379 359h1v1h-1zM419 359h1v1h-1zM297 380h1v1h-1zM515 380h1v1h-1zM540 380h1v1h-1zM560 380h1v1h-1zM565 380h1v1h-1zM6 365h1v1h-1zM309 365h1v1h-1zM339 365h1v1h-1zM423 365h1v1h-1zM433 365h1v1h-1zM505 365h1v1h-1zM313 361h1v1h-1zM344 361h1v1h-1zM288 391h1v1h-1zM160 414h1v1h-1zM179 423h1v1h-1zM619 423h1v1h-1z" fill="#8b008b" shape-rendering="crispEdges"/>
</g>
<g fill="#000" shape-rendering="crispEdges">
<rect x="2" y="2" width="746" height="1"/>
<rect x="2" y="335" width="746" height="1"/>
<rect x="2" y="2" width="1" height="334"/>
<rect x="747" y="2" width="1" height="334"/>
<rect x="747" y="337" width="1" height="92"/>
<rect x="2" y="337" width="746" height="1"/>
<rect x="2" y="428" width="746" height="1"/>
<rect x="2" y="337" width="1" height="92"/>
<rect x="748" y="67" width="2" height="1"/>
<rect x="748" y="116" width="2" height="1"/>
<rect x="748" y="166" width="2" height="1"/>
<rect x="748" y="216" width="2" height="1"/>
<rect x="748" y="266" width="2" height="1"/>
<rect x="748" y="316" width="2" height="1"/>
<rect x="748" y="17" width="2" height="1"/>
<rect x="748" y="387" width="2" height="1"/>
<rect x="3" y="429" width="1" height="3"/>
<rect x="99" y="429" width="1" height="3"/>
<rect x="195" y="429" width="1" height="3"/>
<rect x="291" y="429" width="1" height="3"/>
<rect x="387" y="429" width="1" height="3"/>
<rect x="483" y="429" width="1" height="3"/>
<rect x="579" y="429" width="1" height="3"/>
<rect x="6" y="10" width="9" height="1"/>
<rect x="7" y="11" width="7" height="1"/>
<rect x="8" y="12" width="5" height="1"/>
<rect x="9" y="13" width="3" height="1"/>
<rect x="10" y="14" width="1" height="1"/>
</g>
</svg>
<div class="t" style="left:20.6px;top:1px;font-size:12.5px;color:#000;transform:scaleX(0.868);transform-origin:0 0;">EURUSD,Daily</div>
<div class="t" style="left:101.4px;top:1px;font-size:13px;color:#000;">1.0873 1.0883 1.0869 1.0874</div>
<div class="t" style="left:6.6px;top:337px;font-size:12.5px;color:#000;transform:scaleX(0.86);transform-origin:0 0;">Marlin</div>
<div class="t" style="left:40.6px;top:337px;font-size:13px;color:#000;">-0.0152</div>
<div class="t" style="left:753.2px;top:56px;font-size:13px;color:#000;">1.1010</div>
<div class="t" style="left:753.2px;top:105px;font-size:13px;color:#000;">1.0915</div>
<div class="t" style="left:753.2px;top:155px;font-size:13px;color:#000;">1.0820</div>
<div class="t" style="left:753.2px;top:205px;font-size:13px;color:#000;">1.0725</div>
<div class="t" style="left:753.2px;top:255px;font-size:13px;color:#000;">1.0630</div>
<div class="t" style="left:753.2px;top:305px;font-size:13px;color:#000;">1.0535</div>
<div class="t" style="left:750.8px;top:335px;font-size:13px;color:#000;">0.0248</div>
<div class="t" style="left:750.8px;top:376px;font-size:13px;color:#000;">0.00</div>
<div class="t" style="left:750.6px;top:409px;font-size:13px;color:#000;">-0.0208</div>
<div class="t" style="left:2px;top:428px;font-size:12.5px;color:#000;">25 Jan 2023</div>
<div class="t" style="left:98px;top:428px;font-size:12.5px;color:#000;">10 Feb 2023</div>
<div class="t" style="left:194px;top:428px;font-size:12.5px;color:#000;">28 Feb 2023</div>
<div class="t" style="left:290px;top:428px;font-size:12.5px;color:#000;">16 Mar 2023</div>
<div class="t" style="left:386px;top:428px;font-size:12.5px;color:#000;">3 Apr 2023</div>
<div class="t" style="left:482px;top:428px;font-size:12.5px;color:#000;">19 Apr 2023</div>
<div class="t" style="left:578px;top:428px;font-size:12.5px;color:#000;">5 May 2023</div>
<div class="b" style="top:8px;background:#ff0000"></div>
<div class="b" style="top:48px;background:#ff0000"></div>
<div class="b" style="top:169px;background:#ff0000"></div>
<div class="b" style="top:205px;background:#ff0000"></div>
<div class="b" style="top:131px;background:#000"></div>
<div class="t" style="left:753.2px;top:4px;font-size:13px;color:#fff;">1.1110</div>
<div class="t" style="left:753.2px;top:44px;font-size:13px;color:#fff;">1.1033</div>
<div class="t" style="left:753.2px;top:165px;font-size:13px;color:#fff;">1.0804</div>
<div class="t" style="left:753.2px;top:201px;font-size:13px;color:#fff;">1.0736</div>
<div class="t" style="left:753.2px;top:127px;font-size:13px;color:#fff;">1.0874</div>
</body></html>
